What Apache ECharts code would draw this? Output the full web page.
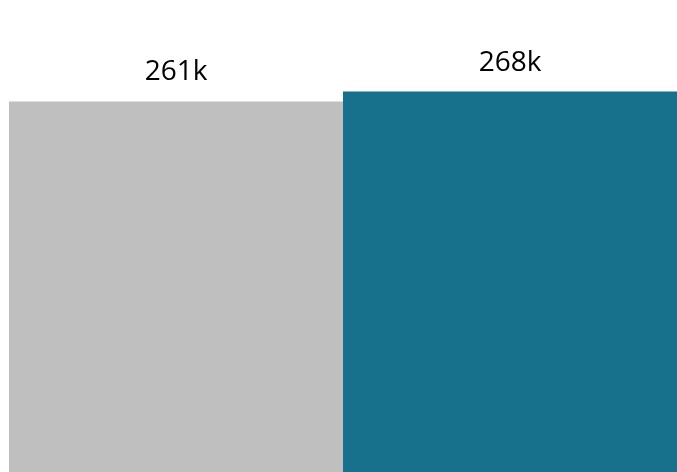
<!DOCTYPE html>
<html><head><meta charset="utf-8">
<script src="https://cdn.jsdelivr.net/npm/echarts@6/dist/echarts.min.js"></script>
<style>html,body{margin:0;padding:0;background:#fff}#c{width:677px;height:472px}</style>
</head><body><div id="c"></div>
<script>
const categories = ['A', 'B'];
const values = [261, 268];
const labels = ['261k', '268k'];
const colors = ['#bfbfbf', '#18718c'];

const chart = echarts.init(document.getElementById('c'), null, {renderer: 'canvas'});
chart.setOption({
  animation: false,
  grid: {left: 9, right: 0, top: 0, bottom: 0},
  xAxis: {type: 'category', data: categories, show: false},
  yAxis: {type: 'value', min: 0, max: 332.5, show: false},
  series: [{
    type: 'bar',
    barCategoryGap: '0%',
    data: values.map((v, i) => ({value: v, itemStyle: {color: colors[i]}})),
    label: {
      show: true, position: 'top', distance: 15,
      fontFamily: 'Open Sans', fontSize: 28, color: '#000',
      formatter: p => labels[p.dataIndex]
    }
  }]
});
</script></body></html>
